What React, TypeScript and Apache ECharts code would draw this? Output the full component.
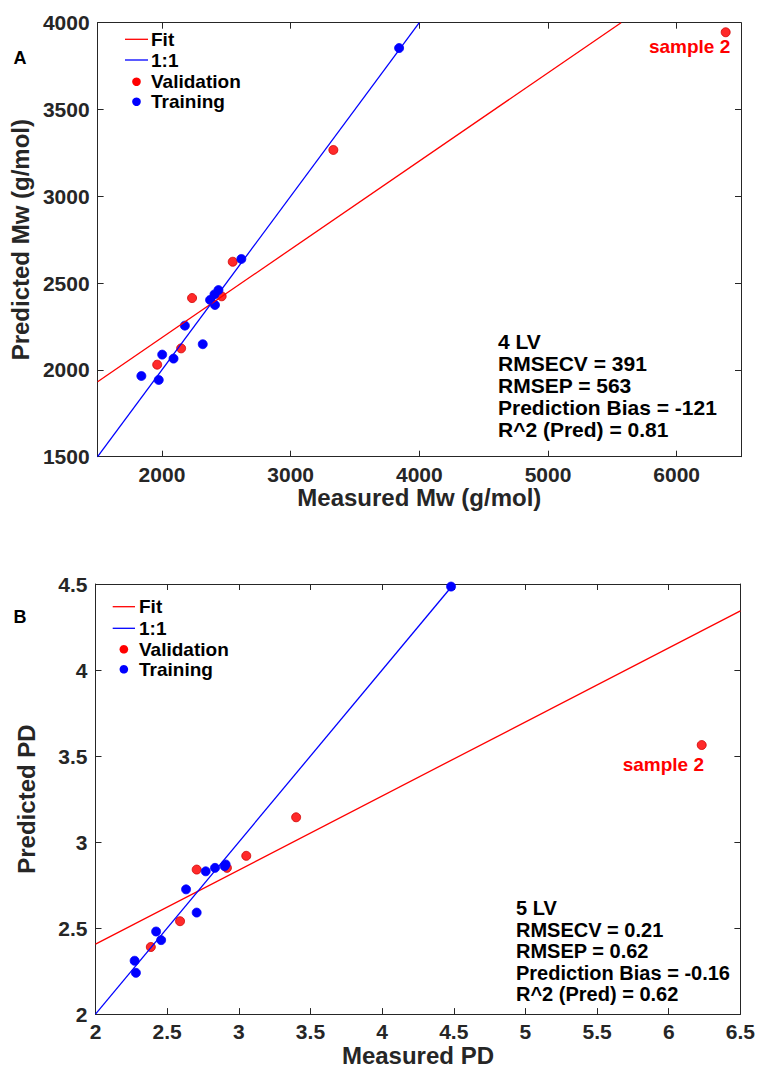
import React, { useEffect, useRef } from "react";
import * as echarts from "echarts";

// ---------- Panel A (Mw) ----------
const mwXTicks = [2000, 3000, 4000, 5000, 6000];
const mwTrainX = [1840, 1975, 2002, 2090, 2178, 2317, 2374, 2412, 2408, 2439, 2617, 3843];
const mwTrainY = [1965, 1942, 2088, 2065, 2255, 2148, 2403, 2374, 2435, 2460, 2639, 3854];
const mwValX = [1963, 2149, 2234, 2464, 2550, 3332, 6381];
const mwValY = [2030, 2124, 2414, 2424, 2623, 3267, 3945];
const mwFitX = [1500, 5568];
const mwFitY = [1932, 4000];
const mwOneX = [1500, 4000];
const mwOneY = [1500, 4000];
const mwStats = ["4 LV", "RMSECV = 391", "RMSEP = 563", "Prediction Bias = -121", "R^2 (Pred) = 0.81"];

// ---------- Panel B (PD) ----------
const pdTrainX = [2.273, 2.282, 2.423, 2.458, 2.632, 2.706, 2.769, 2.834, 2.901, 2.908, 4.481];
const pdTrainY = [2.31, 2.24, 2.48, 2.43, 2.725, 2.59, 2.83, 2.85, 2.86, 2.87, 4.485];
const pdValX = [2.386, 2.59, 2.706, 2.917, 3.052, 3.4, 6.23];
const pdValY = [2.39, 2.54, 2.84, 2.85, 2.92, 3.144, 3.564];
const pdFitX = [2, 6.5];
const pdFitY = [2.407, 4.344];
const pdOneX = [2, 4.5];
const pdOneY = [2, 4.5];
const pdStats = ["5 LV", "RMSECV = 0.21", "RMSEP = 0.62", "Prediction Bias = -0.16", "R^2 (Pred) = 0.62"];

const legendNames = ["Fit", "1:1", "Validation", "Training"];
const sampleLabel = "sample 2";

const FONT = "'Liberation Sans', Arial, sans-serif";
const AX = "#262626";
const RED = "#ff0000";
const BLUE = "#0000ff";

function zip(xs: number[], ys: number[]) {
  return xs.map((x, i) => [x, ys[i]]);
}

export default function App() {
  const ref = useRef<HTMLDivElement>(null);
  useEffect(() => {
    document.body.style.margin = "0";
    if (!ref.current) return;
    const chart = echarts.init(ref.current, undefined, { renderer: "svg" });

    const labelStyle = {
      fontFamily: FONT,
      fontWeight: "bold" as const,
      fontSize: 21,
      color: AX,
      formatter: (v: number) => String(v),
    };
    const nameStyle = { fontFamily: FONT, fontWeight: "bold" as const, fontSize: 24, color: AX };
    const lineAx = { show: true, onZero: false, lineStyle: { color: AX, width: 1 } };

    const mkX = (grid: number, min: number, max: number, opts: any, main: boolean, name?: string, gap?: number) => ({
      type: "value",
      gridIndex: grid,
      position: main ? "bottom" : "top",
      min,
      max,
      ...opts.base,
      axisLine: lineAx,
      axisTick: { show: true, inside: true, length: 6, lineStyle: { color: AX }, ...(opts.tick || {}) },
      axisLabel: main ? { show: true, margin: 7, ...labelStyle, ...(opts.label || {}) } : { show: false },
      splitLine: { show: false },
      name: main ? name : undefined,
      nameLocation: "middle",
      nameGap: gap,
      nameTextStyle: nameStyle,
    });
    const mkY = (grid: number, min: number, max: number, interval: number, main: boolean, name?: string, gap?: number) => ({
      type: "value",
      gridIndex: grid,
      position: main ? "left" : "right",
      min,
      max,
      interval,
      axisLine: lineAx,
      axisTick: { show: true, inside: true, length: 6, lineStyle: { color: AX } },
      axisLabel: main ? { show: true, margin: 8, ...labelStyle } : { show: false },
      splitLine: { show: false },
      name: main ? name : undefined,
      nameLocation: "middle",
      nameGap: gap,
      nameTextStyle: nameStyle,
    });

    const mwXOpts = {
      base: {},
      tick: { customValues: mwXTicks },
      label: { customValues: mwXTicks },
    };
    const pdXOpts = { base: { interval: 0.5 } };

    const sampleLbl = (dx: number, dy: number) => ({
      show: true,
      formatter: sampleLabel,
      position: [dx, dy],
      align: "right",
      verticalAlign: "middle",
      color: RED,
      opacity: 1,
      fontFamily: FONT,
      fontWeight: "bold",
      fontSize: 19,
    });

    const valData = (xs: number[], ys: number[], lbl: any) =>
      xs.map((x, i) => (i === xs.length - 1 ? { value: [x, ys[i]], label: lbl } : [x, ys[i]]));

    const scatterBase = (color: string, border: string) => ({
      type: "scatter",
      symbol: "circle",
      symbolSize: 9,
      itemStyle: { color, borderColor: border, borderWidth: 0.8, opacity: 1 },
    });

    const lineSeries = (xi: number, yi: number, data: number[][], color: string) => ({
      type: "line",
      xAxisIndex: xi,
      yAxisIndex: yi,
      data,
      symbol: "none",
      lineStyle: { color, width: 1.3 },
      clip: true,
    });

    const legendGraphic = (lx1: number, lx2: number, tx: number, ys: number[]) => {
      const els: any[] = [];
      const colors = [RED, BLUE, RED, BLUE];
      legendNames.forEach((n, i) => {
        if (i < 2) {
          els.push({ type: "line", shape: { x1: lx1, y1: ys[i], x2: lx2, y2: ys[i] }, style: { stroke: colors[i], lineWidth: 1.3 } });
        } else {
          els.push({ type: "circle", shape: { cx: (lx1 + lx2) / 2, cy: ys[i], r: 4.3 }, style: { fill: colors[i] } });
        }
        els.push({
          type: "text",
          x: tx,
          y: ys[i],
          style: { text: n, fontFamily: FONT, fontWeight: "bold", fontSize: 19, fill: "#000", verticalAlign: "middle", align: "left" },
        });
      });
      return els;
    };

    const statsGraphic = (x: number, y0: number, step: number, lines: string[], size: number) =>
      lines.map((t, i) => ({
        type: "text",
        x,
        y: y0 + i * step,
        style: { text: t, fontFamily: FONT, fontWeight: "bold", fontSize: size, fill: "#000", verticalAlign: "middle", align: "left" },
      }));

    const option: any = {
      animation: false,
      backgroundColor: "#fff",
      grid: [
        { left: 95.5, right: 17, top: 22.7, height: 434, containLabel: false },
        { left: 95.5, right: 17, top: 584, height: 432, containLabel: false },
      ],
      xAxis: [
        mkX(0, 1500, 6500, mwXOpts, true, "Measured Mw (g/mol)", 28),
        mkX(0, 1500, 6500, mwXOpts, false),
        mkX(1, 2, 6.5, pdXOpts, true, "Measured PD", 23),
        mkX(1, 2, 6.5, pdXOpts, false),
      ],
      yAxis: [
        mkY(0, 1500, 4000, 500, true, "Predicted Mw (g/mol)", 58),
        mkY(0, 1500, 4000, 500, false),
        mkY(1, 2, 4.5, 0.5, true, "Predicted PD", 57),
        mkY(1, 2, 4.5, 0.5, false),
      ],
      series: [
        lineSeries(0, 0, zip(mwFitX, mwFitY), RED),
        lineSeries(0, 0, zip(mwOneX, mwOneY), BLUE),
        { ...scatterBase("#ff2a2a", "#d00000"), xAxisIndex: 0, yAxisIndex: 0, data: valData(mwValX, mwValY, sampleLbl(9.5, 18.9)) },
        { ...scatterBase(BLUE, BLUE), xAxisIndex: 0, yAxisIndex: 0, data: zip(mwTrainX, mwTrainY) },
        lineSeries(2, 2, zip(pdFitX, pdFitY), RED),
        lineSeries(2, 2, zip(pdOneX, pdOneY), BLUE),
        { ...scatterBase("#ff2a2a", "#d00000"), xAxisIndex: 2, yAxisIndex: 2, data: valData(pdValX, pdValY, sampleLbl(7.2, 24.8)) },
        { ...scatterBase(BLUE, BLUE), xAxisIndex: 2, yAxisIndex: 2, data: zip(pdTrainX, pdTrainY) },
      ],
      graphic: [
        ...legendGraphic(125, 148, 151, [39.3, 60, 81.7, 101.7]),
        ...legendGraphic(112.7, 135, 139, [606.7, 628.3, 649.3, 669.3]),
        ...statsGraphic(498, 341.7, 22, mwStats, 21),
        ...statsGraphic(516, 908, 21.5, pdStats, 20),
        { type: "text", x: 20, y: 58, style: { text: "A", fontFamily: FONT, fontWeight: "bold", fontSize: 18, fill: "#000", align: "center", verticalAlign: "middle" } },
        { type: "text", x: 20, y: 617, style: { text: "B", fontFamily: FONT, fontWeight: "bold", fontSize: 18, fill: "#000", align: "center", verticalAlign: "middle" } },
      ],
    };
    chart.setOption(option);
    return () => chart.dispose();
  }, []);
  return <div ref={ref} style={{ width: 758, height: 1068 }} />;
}
